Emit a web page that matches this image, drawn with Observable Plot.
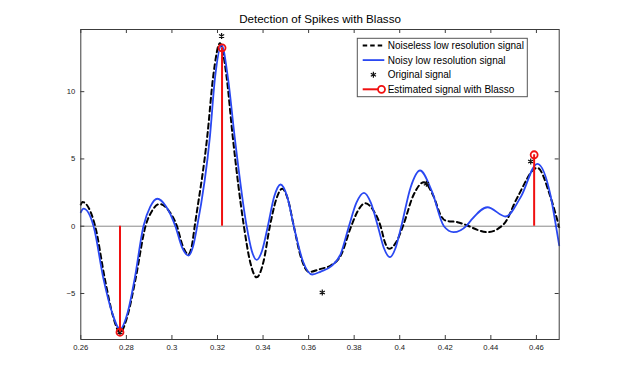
<!DOCTYPE html>
<html>
<head>
<meta charset="utf-8">
<script src="https://cdn.jsdelivr.net/npm/d3@7"></script>
<script src="https://cdn.jsdelivr.net/npm/@observablehq/plot@0.6"></script>
<style>
  html, body { margin: 0; padding: 0; background: #fff; }
  svg { font-family: "Liberation Sans", Arial, sans-serif; }
</style>
</head>
<body>
<div id="chart"></div>
<script>
const titleText = "Detection of Spikes with Blasso";

// Noiseless low resolution signal (black dashed)
const noiselessX = [0.26, 0.2607, 0.2663, 0.2706, 0.2740, 0.2772, 0.2806, 0.2840, 0.2884, 0.2915, 0.2946, 0.2984, 0.3022, 0.3048, 0.3073, 0.3087, 0.31, 0.3156, 0.3181, 0.3211, 0.3240, 0.3266, 0.3316, 0.3344, 0.3372, 0.3401, 0.343, 0.3457, 0.3484, 0.3510, 0.3535, 0.3568, 0.3601, 0.3653, 0.3697, 0.3741, 0.3787, 0.3818, 0.3849, 0.3883, 0.3916, 0.3935, 0.3953, 0.3984, 0.4014, 0.4060, 0.4106, 0.415, 0.418, 0.4201, 0.4253, 0.4297, 0.4341, 0.4385, 0.4458, 0.4517, 0.4604, 0.4662, 0.47];
const noiselessY = [1.6, 1.8, 0, -3.95, -6.6, -7.9, -6.6, -3.95, 0, 1.2, 1.65, 1.2, 0, -1.5, -2.1, -1.5, 0, 6.8, 11.1, 13.6, 11.1, 6.8, 0, -2.7, -3.8, -2.7, 0, 1.95, 2.78, 1.95, 0, -2.4, -3.4, -3.17, -2.92, -2.18, 0, 1.2, 1.71, 1.2, 0, -1.2, -1.68, -1.2, 0, 2.3, 3.27, 2.16, 0.8, 0.42, 0.3, 0.05, -0.27, -0.44, 0.18, 2.16, 4.34, 2.16, -0.07];

// Noisy low resolution signal (blue)
const noisyX = [0.26, 0.2612, 0.2656, 0.27, 0.2737, 0.2772, 0.2806, 0.2836, 0.2875, 0.2905, 0.2936, 0.2975, 0.3015, 0.3044, 0.3073, 0.3092, 0.3111, 0.3167, 0.3189, 0.3218, 0.3246, 0.3275, 0.3328, 0.3350, 0.3372, 0.3396, 0.3421, 0.3449, 0.3477, 0.3506, 0.3535, 0.3575, 0.3616, 0.3653, 0.3697, 0.3741, 0.3777, 0.3810, 0.3843, 0.3873, 0.3904, 0.3930, 0.3957, 0.3982, 0.4007, 0.4048, 0.4089, 0.4141, 0.4194, 0.4236, 0.4294, 0.4311, 0.4385, 0.4465, 0.4531, 0.4604, 0.4662, 0.4686, 0.47];
const noisyY = [1.04, 1.3, 0, -3.95, -6.4, -7.65, -6.4, -3.95, 0, 1.45, 2.04, 1.45, 0, -1.55, -2.18, -1.55, 0, 6.7, 11.0, 13.45, 11.0, 6.7, 0, -1.8, -2.5, -1.8, 0, 2.2, 3.1, 2.2, 0, -2.6, -3.59, -3.37, -3.0, -2.05, 0, 1.75, 2.48, 1.75, 0, -1.6, -2.3, -1.6, 0, 2.9, 4.14, 2.6, 0, -0.44, 0.05, 0.4, 1.41, 0.72, 2.16, 4.64, 2.28, 0, -1.43];

// Original signal (asterisks)
const originalX = [0.2772, 0.3218, 0.366, 0.4117, 0.4575];
const originalY = [-7.9, 14.13, -4.93, 3.15, 4.81];

// Estimated signal with Blasso (red stems)
const estimatedX = [0.2772, 0.322, 0.459];
const estimatedY = [-7.88, 13.26, 5.31];

// Axis ticks
const xTicks = [0.26, 0.28, 0.30, 0.32, 0.34, 0.36, 0.38, 0.40, 0.42, 0.44, 0.46];
const xTickLabels = ["0.26", "0.28", "0.3", "0.32", "0.34", "0.36", "0.38", "0.4", "0.42", "0.44", "0.46"];
const yTicks = [-5, 0, 5, 10];
const yTickLabels = ["\u22125", "0", "5", "10"];

const legendLabels = ["Noiseless low resolution signal", "Noisy low resolution signal", "Original signal", "Estimated signal with Blasso"];

const noiseless = noiselessX.map((x, i) => ({x, y: noiselessY[i]}));
const noisy = noisyX.map((x, i) => ({x, y: noisyY[i]}));
const original = originalX.map((x, i) => ({x, y: originalY[i]}));
const estimated = estimatedX.map((x, i) => ({x, y: estimatedY[i]}));
const xt = xTicks.map((v, i) => ({v, label: xTickLabels[i]}));
const yt = yTicks.map((v, i) => ({v, label: yTickLabels[i]}));

const W = 617, H = 382;
const mL = 80.3, mR = 58.3, mT = 29, mB = 43;
const plotH = H - mT - mB, plotW = W - mL - mR;
const tickLen = 4;
const axisColor = "#3c3c3c";
const blue = "#2a48f2";
const red = "#f01010";

const chart = Plot.plot({
  width: W,
  height: H,
  marginLeft: mL,
  marginRight: mR,
  marginTop: mT,
  marginBottom: mB,
  style: {fontFamily: "'Liberation Sans', Arial, sans-serif", background: "#fff"},
  x: {domain: [0.26, 0.47], axis: null},
  y: {domain: [-8.42, 14.62], axis: null},
  marks: [
    Plot.ruleY([0], {stroke: "#8a8a8a", strokeWidth: 1}),
    // inside ticks
    Plot.ruleX(xt, {x: "v", insetTop: plotH - tickLen, stroke: axisColor}),
    Plot.ruleX(xt, {x: "v", insetBottom: plotH - tickLen, stroke: axisColor}),
    Plot.ruleY(yt, {y: "v", insetRight: plotW - tickLen, stroke: axisColor}),
    Plot.ruleY(yt, {y: "v", insetLeft: plotW - tickLen, stroke: axisColor}),
    Plot.text(xt, {x: "v", text: "label", frameAnchor: "bottom", lineAnchor: "bottom", dy: 10.3, fontSize: 7.7, fill: "#222"}),
    Plot.text(yt, {y: "v", text: "label", frameAnchor: "left", textAnchor: "end", lineAnchor: "middle", dx: -5.6, fontSize: 7.7, fill: "#222"}),
    // curves
    Plot.line(noiseless, {x: "x", y: "y", curve: "monotone-x", stroke: "#000", strokeWidth: 2, strokeDasharray: "5,3.5"}),
    Plot.line(noisy, {x: "x", y: "y", curve: "monotone-x", stroke: blue, strokeWidth: 1.8}),
    Plot.dot(original, {x: "x", y: "y", symbol: "asterisk", r: 2.8, stroke: "#111", strokeWidth: 1.2}),
    Plot.ruleX(estimated, {x: "x", y1: 0, y2: "y", stroke: red, strokeWidth: 2}),
    Plot.dot(estimated, {x: "x", y: "y", r: 3.5, stroke: red, strokeWidth: 1.8, fill: "none"}),
    Plot.frame({stroke: axisColor, strokeWidth: 1}),
    Plot.text([titleText], {frameAnchor: "top", lineAnchor: "bottom", dy: -6.5, fontSize: 11.6, fill: "#000"})
  ]
});

// Legend (inside the axes, top-right)
const svg = d3.select(chart);
const lg = svg.append("g")
  .attr("font-family", "'Liberation Sans', Arial, sans-serif")
  .attr("font-size", 10)
  .attr("text-anchor", "start");
lg.append("rect").attr("x", 357.3).attr("y", 38.3).attr("width", 170).attr("height", 58.4)
  .attr("fill", "#fff").attr("stroke", "#555").attr("stroke-width", 1);
const rowY = [45.5, 60.1, 74.7, 89.3];
const sx1 = 362.7, sx2 = 384.3, tx = 387.7;
lg.append("line").attr("x1", sx1).attr("x2", sx2).attr("y1", rowY[0]).attr("y2", rowY[0])
  .attr("stroke", "#000").attr("stroke-width", 2).attr("stroke-dasharray", "4.5,3");
lg.append("line").attr("x1", sx1).attr("x2", sx2).attr("y1", rowY[1]).attr("y2", rowY[1])
  .attr("stroke", blue).attr("stroke-width", 1.8);
lg.append("path").attr("transform", `translate(373.4,${rowY[2]})`)
  .attr("d", d3.symbol(d3.symbolAsterisk, Math.PI * 2.8 * 2.8)())
  .attr("stroke", "#111").attr("stroke-width", 1.2).attr("fill", "none");
lg.append("line").attr("x1", sx1).attr("x2", 381.5).attr("y1", rowY[3]).attr("y2", rowY[3])
  .attr("stroke", red).attr("stroke-width", 2);
lg.append("circle").attr("cx", 381.5).attr("cy", rowY[3]).attr("r", 3.5)
  .attr("stroke", red).attr("stroke-width", 1.8).attr("fill", "#fff");
legendLabels.forEach((t, i) => {
  lg.append("text").attr("x", tx).attr("y", rowY[i]).attr("dy", "0.35em")
    .attr("text-anchor", "start").attr("fill", "#000").text(t);
});

document.getElementById("chart").appendChild(chart);
</script>
</body>
</html>
